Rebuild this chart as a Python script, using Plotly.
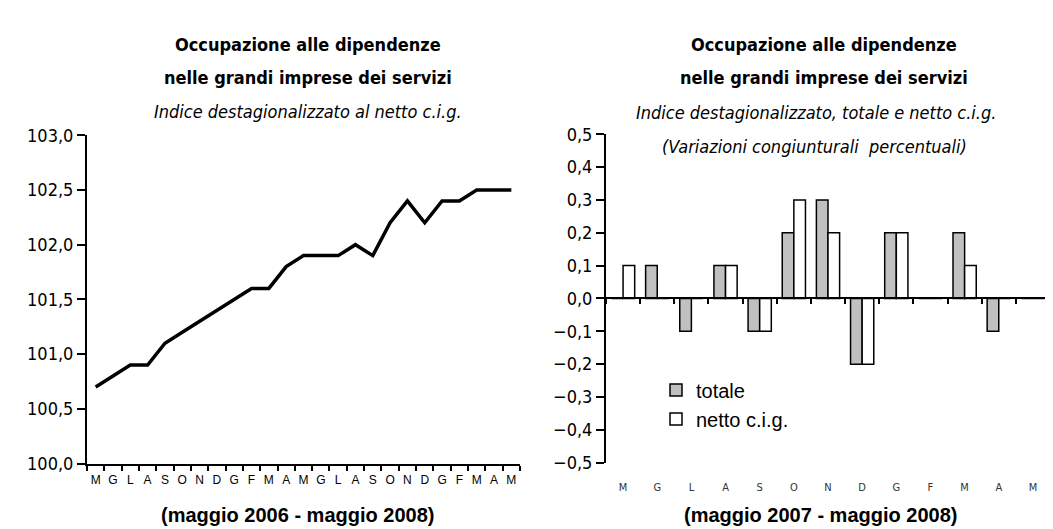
import plotly.graph_objects as go

# ---- data ----
months_left = ["M", "G", "L", "A", "S", "O", "N", "D", "G", "F", "M", "A",
               "M", "G", "L", "A", "S", "O", "N", "D", "G", "F", "M", "A", "M"]
index_values = [100.7, 100.8, 100.9, 100.9, 101.1, 101.2, 101.3, 101.4, 101.5,
                101.6, 101.6, 101.8, 101.9, 101.9, 101.9, 102.0, 101.9, 102.2,
                102.4, 102.2, 102.4, 102.4, 102.5, 102.5, 102.5]

months_right = ["M", "G", "L", "A", "S", "O", "N", "D", "G", "F", "M", "A", "M"]
totale = [0.0, 0.1, -0.1, 0.1, -0.1, 0.2, 0.3, -0.2, 0.2, 0.0, 0.2, -0.1, 0.0]
netto = [0.1, 0.0, 0.0, 0.1, -0.1, 0.3, 0.2, -0.2, 0.2, 0.0, 0.1, 0.0, 0.0]

# unique category keys (months repeat)
xl = [f"{i}" for i in range(len(months_left))]
xr = [f"{i}" for i in range(len(months_right))]

W, H = 1053, 529
NARROW = "DejaVu Sans Condensed, Liberation Sans Narrow, sans-serif"
ARIAL = "Liberation Sans, Arial, sans-serif"

def fx(px):
    return px / W

def fy(py):
    return 1 - py / H

fig = go.Figure()

fig.add_trace(go.Scatter(x=xl, y=index_values, mode="lines",
                         line=dict(color="black", width=3.5),
                         xaxis="x", yaxis="y", showlegend=False))

fig.add_trace(go.Bar(x=xr, y=totale, name="totale",
                     marker=dict(color="#c0c0c0", line=dict(color="black", width=1.5)),
                     xaxis="x2", yaxis="y2"))
fig.add_trace(go.Bar(x=xr, y=netto, name="netto c.i.g.",
                     marker=dict(color="white", line=dict(color="black", width=1.5)),
                     xaxis="x2", yaxis="y2"))

ydom_l = [fy(463), fy(121)]
ydom_r = [fy(462), fy(120)]

fig.update_layout(
    width=W, height=H,
    margin=dict(l=0, r=0, t=0, b=0),
    paper_bgcolor="white", plot_bgcolor="white",
    separators=",.",
    barmode="group", bargap=0.32, bargroupgap=0,
    font=dict(family=ARIAL, color="black"),
    xaxis=dict(domain=[fx(79), fx(512)], anchor="y", type="category",
               range=[-0.5, len(xl) - 0.5],
               tickmode="array", tickvals=xl, ticktext=months_left,
               tickangle=0,
               showline=True, linecolor="black", linewidth=2,
               ticks="outside", ticklen=5, tickwidth=2, tickcolor="black",
               tickson="boundaries", ticklabelstandoff=4,
               tickfont=dict(family=ARIAL, size=12, color="black"),
               showgrid=False, zeroline=False),
    yaxis=dict(domain=ydom_l, anchor="x", range=[100, 103], dtick=0.5,
               tickformat=".1f", showline=True, linecolor="black", linewidth=2,
               ticks="outside", ticklen=8, tickwidth=2, tickcolor="black",
               tickfont=dict(family=NARROW, size=18, color="black"),
               showgrid=False, zeroline=False),
    xaxis2=dict(domain=[fx(598), fx(1042)], anchor="free",
                position=(ydom_r[0] + ydom_r[1]) / 2, type="category",
                range=[-0.5, len(xr) - 0.5],
                tickmode="array", tickvals=xr, ticktext=months_right,
                tickangle=0,
                showline=True, linecolor="black", linewidth=2,
                ticks="outside", ticklen=5, tickwidth=2, tickcolor="black",
                tickson="boundaries", ticklabelstandoff=178,
                tickfont=dict(family=NARROW, size=11, color="#333333"),
                showgrid=False, zeroline=False),
    yaxis2=dict(domain=ydom_r, anchor="x2", range=[-0.5, 0.5], dtick=0.1,
                tickformat=".1f", showline=True, linecolor="black", linewidth=2,
                ticks="outside", ticklen=8, tickwidth=2, tickcolor="black",
                tickfont=dict(family=NARROW, size=18, color="black"),
                showgrid=False, zeroline=False),
    legend=dict(x=fx(648), y=fy(366), xanchor="left", yanchor="top",
                bgcolor="rgba(0,0,0,0)", font=dict(family=ARIAL, size=20, color="black"),
                traceorder="normal", itemwidth=30),
)

def ann(text, xpx, ypx, size, family, bold=False, italic=False):
    t = text
    if bold:
        t = f"<b>{t}</b>"
    if italic:
        t = f"<i>{t}</i>"
    fig.add_annotation(text=t, x=fx(xpx), y=fy(ypx), xref="paper", yref="paper",
                       xanchor="center", yanchor="middle", showarrow=False,
                       font=dict(family=family, size=size, color="black"))

# left titles
ann("Occupazione alle dipendenze", 300, 27, 18, NARROW, bold=True)
ann("nelle grandi imprese dei servizi", 300, 61, 18, NARROW, bold=True)
ann("Indice destagionalizzato al netto c.i.g.", 300, 96, 18, NARROW, italic=True)
ann("(maggio 2006 - maggio 2008)", 289, 517, 20, ARIAL, bold=True)

# right titles
ann("Occupazione alle dipendenze", 816, 27, 18, NARROW, bold=True)
ann("nelle grandi imprese dei servizi", 816, 61, 18, NARROW, bold=True)
ann("Indice destagionalizzato, totale e netto c.i.g.", 808, 97, 18, NARROW, italic=True)
ann("(Variazioni congiunturali  percentuali)", 806, 133, 18, NARROW, italic=True)
ann("(maggio 2007 - maggio 2008)", 812, 517, 20, ARIAL, bold=True)

fig.write_html("out.html")
